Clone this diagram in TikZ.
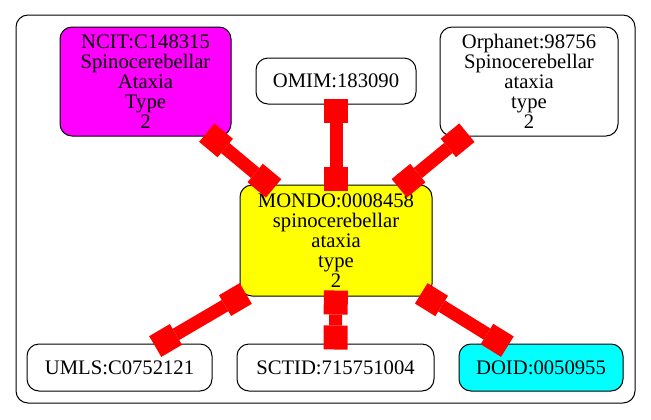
\documentclass[tikz,border=0pt]{standalone}
\usepackage{fontspec}
\setmainfont{Liberation Serif}
\usetikzlibrary{arrows.meta}
\definecolor{linkcol}{HTML}{FF0000}
\definecolor{mondocol}{HTML}{FFFF00}
\definecolor{ncitcol}{HTML}{FF00FF}
\definecolor{doidcol}{HTML}{00FFFF}

\begin{document}
\begin{tikzpicture}[x=0.75pt,y=-0.75pt,
  term/.style={draw,rounded corners=9pt,line width=0.75pt,align=center,inner sep=0pt,
    font=\fontsize{15.5pt}{15pt}\selectfont},
  link/.style={draw=linkcol,line width=9.75pt,
    {Square[length=18pt,width=18pt,line width=0pt]}-{Square[length=18pt,width=18pt,line width=0pt]},
    shorten <=-4.5pt,shorten >=-4.5pt}]
  \useasboundingbox (0,0) rectangle (651,419);
  \draw[rounded corners=9pt,line width=0.75pt] (16,15) rectangle (635,403);
  % top row
  \node[term,fill=ncitcol,minimum width=128.25pt,minimum height=81.75pt] (ncit) at (145.5,81.5)
    {NCIT:C148315\\Spinocerebellar\\Ataxia\\Type\\2};
  \node[term,minimum width=120pt,minimum height=34.5pt] (omim) at (336,81) {OMIM:183090};
  \node[term,minimum width=133.5pt,minimum height=81.75pt] (orpha) at (529,81.5)
    {Orphanet:98756\\Spinocerebellar\\ataxia\\type\\2};
  % centre
  \node[term,fill=mondocol,minimum width=144pt,minimum height=83.25pt] (mondo) at (336,240.5)
    {MONDO:0008458\\spinocerebellar\\ataxia\\type\\2};
  % bottom row
  \node[term,minimum width=138.75pt,minimum height=35.25pt] (umls) at (119.5,367.5) {UMLS:C0752121};
  \node[term,minimum width=147.75pt,minimum height=35.25pt] (sctid) at (335.5,367.5) {SCTID:715751004};
  \node[term,fill=doidcol,minimum width=123pt,minimum height=35.25pt] (doid) at (541,367.5) {DOID:0050955};
  % links
  \foreach \n in {ncit,omim,orpha} \draw[link] (\n) -- (mondo);
  \foreach \n in {umls,sctid,doid} \draw[link] (mondo) -- (\n);
\end{tikzpicture}
\end{document}
